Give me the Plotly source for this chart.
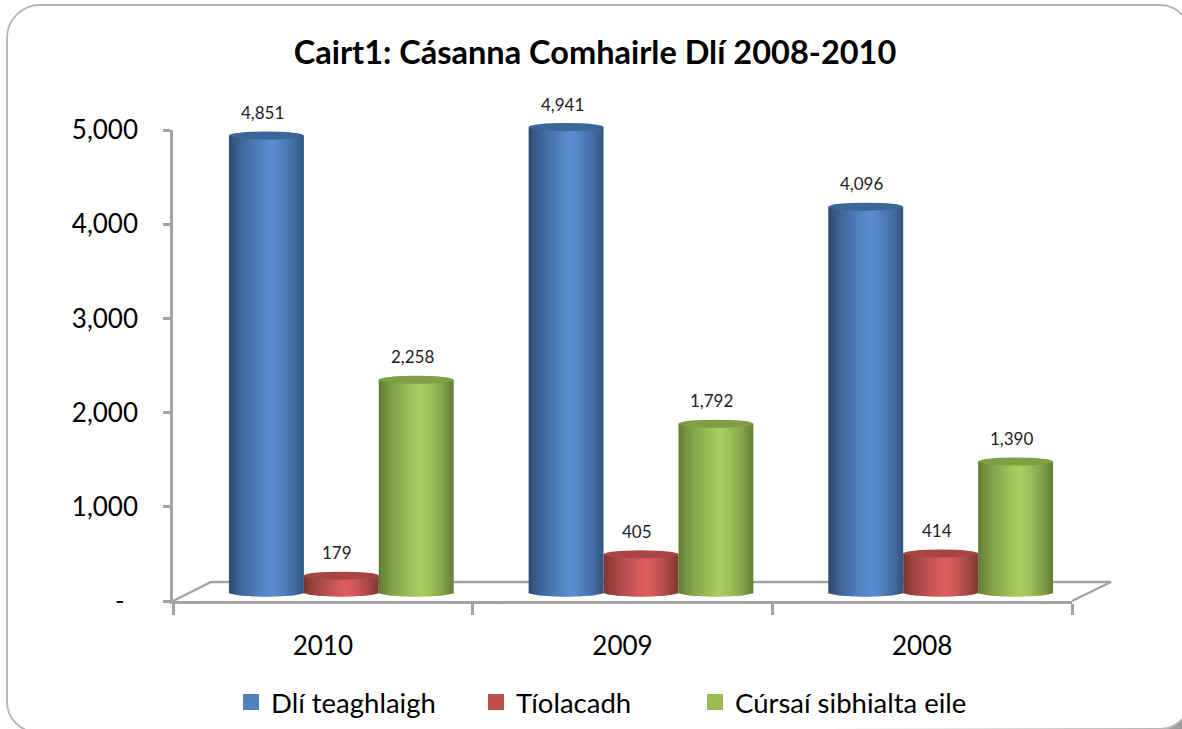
import plotly.graph_objects as go

W, H = 1182, 729

# data
categories = ["2010", "2009", "2008"]
series_names = ["Dlí teaghlaigh", "Tíolacadh", "Cúrsaí sibhialta eile"]
family_law = [4851, 4941, 4096]
conveyancing = [179, 405, 414]
other_civil = [2258, 1792, 1390]
tick_values = [0, 1000, 2000, 3000, 4000, 5000]
tick_labels = ["-\u00a0\u00a0", "1,000", "2,000", "3,000", "4,000", "5,000"]

series_values = [family_law, conveyancing, other_civil]

# styling: legend colour, cap colour, then cylinder shading (left edge, light, right edge)
legend_colors = ["#4F81BD", "#C0504D", "#9BBB59"]
cap_colors = ["#3C6698", "#A84542", "#7F9F45"]
shade_colors = [
    [(42, 72, 108), (91, 142, 210), (50, 86, 130)],
    [(118, 50, 48), (222, 96, 94), (128, 56, 54)],
    [(92, 120, 50), (170, 208, 98), (100, 128, 54)],
]
legend_left_px = [231, 476, 695]

AXIS_GREY = "#A3A3A3"
FONT = "Lato"
N_SLICES = 36
BAR_WIDTH = 0.25
PX_PER_UNIT = 0.0942
BAR_BASE_PX = 592.5
CAP_RY = 4 / PX_PER_UNIT  # half height of the cylinder ellipse, in data units


def px(x):
    return x / W


def py(y):
    return 1 - y / H


def shade(stops, t):
    # light band sits a bit right of centre, like the original
    peak = 0.55
    if t < peak:
        a, b, f = stops[0], stops[1], (t / peak) ** 0.7
    else:
        a, b, f = stops[1], stops[2], ((t - peak) / (1 - peak)) ** 1.4
    return "rgb(%d,%d,%d)" % tuple(a[i] + (b[i] - a[i]) * f for i in range(3))


def corner(x0, y0, cx, cy, x1, y1):
    # bezier for a quarter circle from (x0,y0) to (x1,y1) round the corner (cx,cy)
    k = 0.552
    c1 = (x0 + (cx - x0) * k, y0 + (cy - y0) * k)
    c2 = (x1 + (cx - x1) * k, y1 + (cy - y1) * k)
    return (f"C {px(c1[0])} {py(c1[1])} {px(c2[0])} {py(c2[1])} {px(x1)} {py(y1)} ")


fig = go.Figure()
shapes = []
annotations = []
positions = list(range(len(categories)))

# the category axis needs a trace of its own on x/y
fig.add_trace(go.Bar(x=categories, y=[0] * len(categories), showlegend=False, hoverinfo="skip",
                     marker_color="rgba(0,0,0,0)"))

for s, values in enumerate(series_values):
    left = -1.5 * BAR_WIDTH + s * BAR_WIDTH
    w = BAR_WIDTH / N_SLICES
    mid = N_SLICES // 2
    # outer slices first, each overlaps the next one inwards so no seams show
    order = [(k, k, k + 2) for k in range(mid)]
    order += [(k, max(mid, k - 1), k + 1) for k in range(N_SLICES - 1, mid - 1, -1)]
    for k, start, stop in order:
        t = (k + 0.5) / N_SLICES
        drop = CAP_RY * (1 - (2 * t - 1) ** 2) ** 0.5  # curved bottom of the cylinder
        fig.add_trace(go.Bar(
            x=positions,
            y=[v + drop for v in values],
            base=[-drop] * len(values),
            width=(stop - start) * w,
            offset=left + start * w,
            xaxis="x2", yaxis="y2",
            marker=dict(color=shade(shade_colors[s], t), line_width=0),
            showlegend=False,
            hoverinfo="skip",
        ))
    for i, v in zip(positions, values):
        shapes.append(dict(type="circle", xref="x2", yref="y2", layer="above",
                           x0=i + left, x1=i + left + BAR_WIDTH,
                           y0=v - CAP_RY, y1=v + CAP_RY,
                           fillcolor=cap_colors[s], line_width=0))
        annotations.append(dict(text=f"{v:,}", xref="x2", yref="y2", x=i + left + BAR_WIDTH / 2, y=v,
                                xshift=-4, yshift=23, showarrow=False, yanchor="middle",
                                font=dict(family=FONT, size=17, color="#222222")))

# legend entries, one legend each so they can be spaced like the original
legends = {}
for n, (name, color, lx) in enumerate(zip(series_names, legend_colors, legend_left_px)):
    key = "legend" if n == 0 else f"legend{n + 1}"
    fig.add_trace(go.Scatter(x=[None], y=[None], mode="markers", name=name, legend=key,
                             marker=dict(symbol="square", size=16, color=color)))
    legends[key] = dict(x=px(lx), xanchor="left", y=py(702), yanchor="middle",
                        font=dict(family=FONT, size=27.5), itemclick=False, itemdoubleclick=False,
                        bgcolor="rgba(0,0,0,0)")

# shadow in the lower right corner, then the frame of the chart area
shapes.insert(0, dict(
    type="path", xref="paper", yref="paper", layer="below",
    path=f"M {px(1182)} {py(700)} L {px(1182)} {py(729)} L {px(1150)} {py(729)} Z",
    fillcolor="#9C9C9C", line_width=0))
R = 30
frame = (f"M {px(40)} {py(5)} L {px(1160)} {py(5)} "
         + corner(1160, 5, 1190, 5, 1190, 35)
         + f"L {px(1190)} {py(699)} "
         + corner(1190, 699, 1190, 729, 1160, 729)
         + f"L {px(7 + R)} {py(732)} "
         + corner(7 + R, 732, 7, 732, 7, 702)
         + f"L {px(7)} {py(38)} "
         + corner(7, 38, 7, 5, 40, 5)
         + "Z")
shapes.insert(1, dict(type="path", xref="paper", yref="paper", layer="below", path=frame,
                      fillcolor="white", line=dict(color="#B4B4B4", width=1.8)))

# floor of the 3d plot area
shapes.insert(2, dict(
    type="path", xref="paper", yref="paper", layer="below",
    path=(f"M {px(173)} {py(601)} L {px(211)} {py(582)} L {px(1111)} {py(582)} L {px(1072)} {py(601)}"),
    line=dict(color=AXIS_GREY, width=2.5), fillcolor="rgba(0,0,0,0)"))

fig.update_layout(
    width=W, height=H,
    margin=dict(l=0, r=0, t=0, b=0, autoexpand=False),
    autosize=False,
    barmode="overlay",
    paper_bgcolor="white",
    plot_bgcolor="rgba(0,0,0,0)",
    font=dict(family=FONT, color="black"),
    title=dict(text="<b>Cairt1: Cásanna Comhairle Dlí 2008-2010</b>",
               x=595 / W, xanchor="center", y=py(53), yanchor="middle",
               font=dict(family=FONT, size=32.5, color="black")),
    xaxis=dict(type="category", categoryorder="array", categoryarray=categories,
               domain=[px(173), px(1072)], range=[-0.5, 2.5], tickson="boundaries",
               ticks="outside", ticklen=11, tickwidth=2.5, tickcolor=AXIS_GREY,
               showline=True, linecolor=AXIS_GREY, linewidth=2.5, showgrid=False,
               zeroline=False, tickfont=dict(family=FONT, size=26), anchor="y",
               ticklabelstandoff=20),
    yaxis=dict(domain=[py(601), py(130)], range=[0, 5000], tickmode="array",
               tickvals=tick_values, ticktext=tick_labels,
               ticks="outside", ticklen=7, tickwidth=2.5, tickcolor=AXIS_GREY,
               showline=True, linecolor=AXIS_GREY, linewidth=2.5, showgrid=False,
               zeroline=False, tickfont=dict(family=FONT, size=26), anchor="x",
               ticklabelstandoff=20),
    # bars sit on a plot area pushed back by the 3d depth
    xaxis2=dict(domain=[px(191.5), px(1090.5)], range=[-0.5, 2.5], visible=False, anchor="y2"),
    yaxis2=dict(domain=[py(620), py(90)],
                range=[(BAR_BASE_PX - 620) / PX_PER_UNIT, (BAR_BASE_PX - 90) / PX_PER_UNIT],
                visible=False, anchor="x2"),
    shapes=shapes,
    annotations=annotations,
    **legends,
)

fig.write_html("out.html", config={"displayModeBar": False},
               post_script="document.body.style.margin='0';")
